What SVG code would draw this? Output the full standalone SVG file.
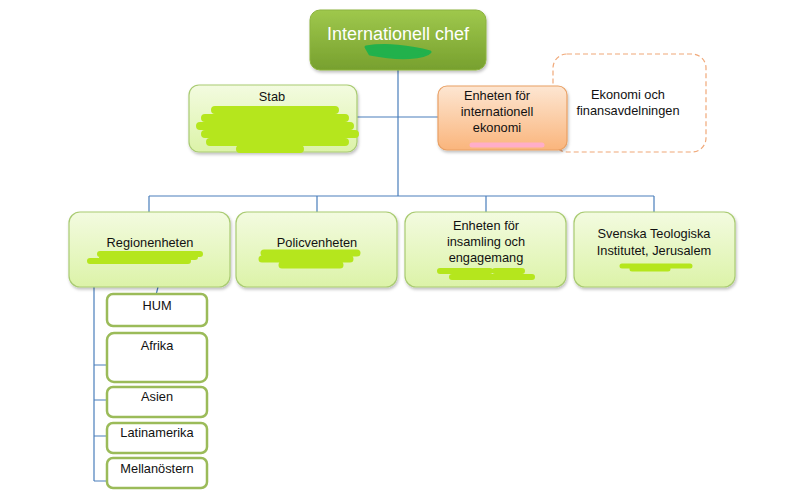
<svg xmlns="http://www.w3.org/2000/svg" width="803" height="499" viewBox="0 0 803 499">
<defs>
<linearGradient id="gTop" x1="0" y1="0" x2="0" y2="1"><stop offset="0" stop-color="#9fc84c"/><stop offset="1" stop-color="#77a02e"/></linearGradient>
<linearGradient id="gLight" x1="0" y1="0" x2="0" y2="1"><stop offset="0" stop-color="#f3fbe0"/><stop offset="1" stop-color="#dcf3a8"/></linearGradient>
<linearGradient id="gOrange" x1="0" y1="0" x2="0" y2="1"><stop offset="0" stop-color="#fde6d2"/><stop offset="1" stop-color="#fab57c"/></linearGradient>
<filter id="sh" x="-10%" y="-10%" width="125%" height="130%"><feDropShadow dx="1" dy="2" stdDeviation="1.5" flood-color="#000" flood-opacity="0.25"/></filter>
</defs>
<style>
.t{font-family:"Liberation Sans",Arial,sans-serif;font-size:12.8px;fill:#111;text-anchor:middle}
.top{font-family:"Liberation Sans",Arial,sans-serif;font-size:18px;fill:#fff;text-anchor:middle}
.lt{fill:url(#gLight);stroke:#a9cb72;stroke-width:1.2}
.sub{fill:#fff;stroke:#9bbb59;stroke-width:2.5}
.con{fill:none;stroke:#4a7ebb;stroke-width:1.2}
.lime{fill:none;stroke:#b5e61d;stroke-linecap:round;stroke-linejoin:round}
</style>
<rect width="803" height="499" fill="#fff"/>
<g id="connectors">
<path class="con" d="M398 70V196M357 117H440M149 196H654M149 196V212M317 196V212M486 196V212M654 196V212"/>
<path class="con" d="M94 287V481M94 365H107M94 400H107M94 436H107M94 481H107M158 287L156 295"/>
</g>
<g id="chef">
<rect x="310" y="10" width="176" height="60" rx="10" fill="url(#gTop)" stroke="#8cb33f" filter="url(#sh)"/>
<text class="top" x="398" y="40">Internationell chef</text>
<path d="M366 47C385 44 410 46 430 52C425 58 400 60 370 54Z" fill="#22b14c" stroke="#22b14c" stroke-width="3" stroke-linejoin="round"/>
</g>
<g id="stab">
<rect class="lt" x="189" y="85" width="168" height="67" rx="10" filter="url(#sh)"/>
<text class="t" x="272" y="101">Stab</text>
<path class="lime" stroke-width="8" d="M215 110H335M205 118H345M200 126H350M205 134H355M210 142H345M240 149H300"/>
</g>
<g id="ekonomi">
<rect x="553" y="54" width="153" height="98" rx="14" fill="#fff" stroke="#f0a878" stroke-width="1.2" stroke-dasharray="5 3"/>
<text class="t" x="628" y="99">Ekonomi och</text>
<text class="t" x="628" y="115">finansavdelningen</text>
</g>
<g id="int-ekonomi">
<rect x="438" y="86" width="129" height="64" rx="9" fill="url(#gOrange)" stroke="#e9a064" stroke-width="1.2" filter="url(#sh)"/>
<text class="t" x="497" y="100">Enheten för</text>
<text class="t" x="497" y="116">internationell</text>
<text class="t" x="497" y="132">ekonomi</text>
<path d="M472 145H542" stroke="#ffaec9" stroke-width="5" stroke-linecap="round"/>
</g>
<g id="regionenheten">
<rect class="lt" x="69" y="212" width="161" height="75" rx="11" filter="url(#sh)"/>
<text class="t" x="150" y="247">Regionenheten</text>
<path class="lime" stroke-width="6" d="M100 254H200M90 261H188M102 257H195"/>
</g>
<g id="policyenheten">
<rect class="lt" x="236" y="212" width="161" height="75" rx="11" filter="url(#sh)"/>
<text class="t" x="317" y="247">Policvenheten</text>
<path class="lime" stroke-width="7" d="M264 253H357M262 259H350M282 265H340"/>
</g>
<g id="insamling">
<rect class="lt" x="405" y="212" width="161" height="75" rx="11" filter="url(#sh)"/>
<text class="t" x="486" y="230">Enheten för</text>
<text class="t" x="486" y="246">insamling och</text>
<text class="t" x="486" y="262">engagemang</text>
<path class="lime" stroke-width="6" d="M440 271H490M452 277H532M495 271H522"/>
</g>
<g id="sti">
<rect class="lt" x="574" y="212" width="161" height="75" rx="11" filter="url(#sh)"/>
<text class="t" x="654" y="238">Svenska Teologiska</text>
<text class="t" x="654" y="255">Institutet, Jerusalem</text>
<path class="lime" stroke-width="5" d="M622 266H690M632 269H668"/>
</g>
<g id="hum"><rect class="sub" x="107" y="294" width="100" height="32" rx="6"/><text class="t" x="157" y="310">HUM</text></g>
<g id="afrika"><rect class="sub" x="107" y="333" width="100" height="49" rx="7"/><text class="t" x="157" y="350">Afrika</text></g>
<g id="asien"><rect class="sub" x="107" y="387" width="100" height="30" rx="6"/><text class="t" x="157" y="401">Asien</text></g>
<g id="latinamerika"><rect class="sub" x="107" y="423" width="100" height="30" rx="6"/><text class="t" x="157" y="437">Latinamerika</text></g>
<g id="mellanostern"><rect class="sub" x="107" y="458" width="100" height="30" rx="6"/><text class="t" x="157" y="473">Mellanöstern</text></g>
</svg>
